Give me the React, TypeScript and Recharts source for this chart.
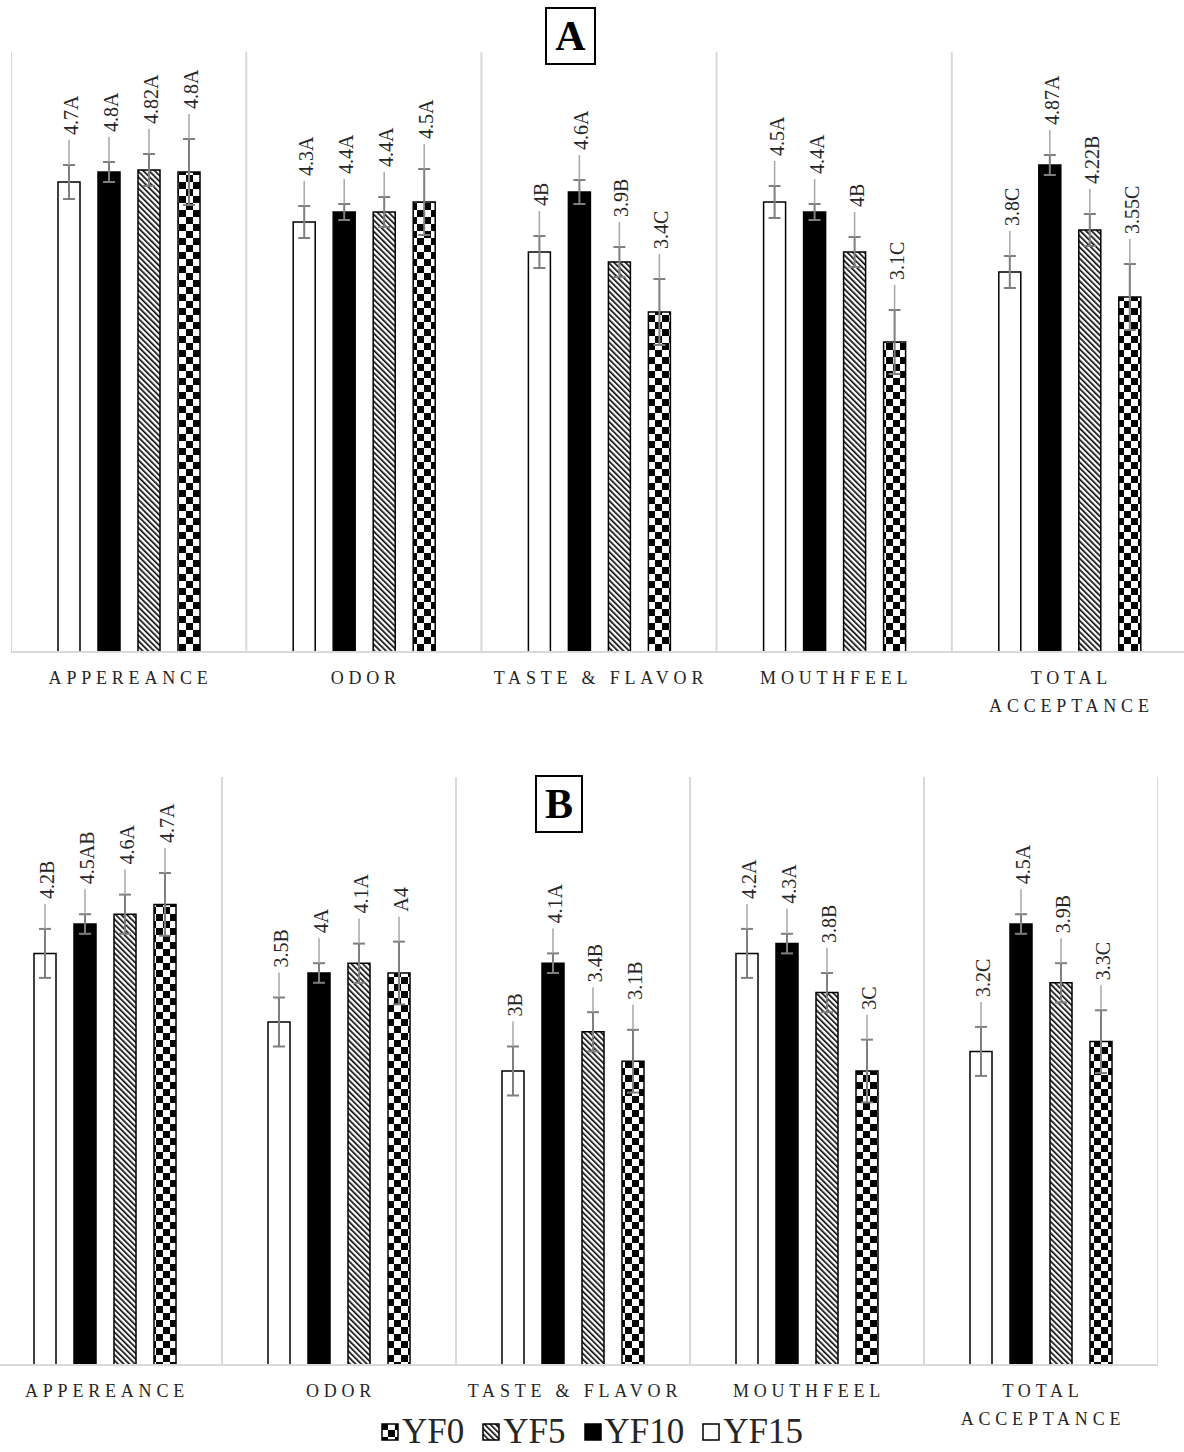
import React from 'react';
import { BarChart, Bar, XAxis, YAxis, CartesianGrid, ErrorBar, LabelList } from 'recharts';

// categories and series
const categories = ['APPEREANCE', 'ODOR', 'TASTE & FLAVOR', 'MOUTHFEEL', 'TOTAL ACCEPTANCE'];
const seriesNames = ['YF15', 'YF10', 'YF5', 'YF0'];

// panel A values
const aYF15 = [4.7, 4.3, 4.0, 4.5, 3.8];
const aYF10 = [4.8, 4.4, 4.6, 4.4, 4.87];
const aYF5 = [4.82, 4.4, 3.9, 4.0, 4.22];
const aYF0 = [4.8, 4.5, 3.4, 3.1, 3.55];

// panel A error (+/-)
const aErr15 = [0.17, 0.16, 0.16, 0.16, 0.16];
const aErr10 = [0.1, 0.08, 0.12, 0.08, 0.1];
const aErr5 = [0.16, 0.15, 0.15, 0.15, 0.16];
const aErr0 = [0.33, 0.33, 0.33, 0.32, 0.33];

// panel A data labels
const aLab15 = ['4.7A', '4.3A', '4B', '4.5A', '3.8C'];
const aLab10 = ['4.8A', '4.4A', '4.6A', '4.4A', '4.87A'];
const aLab5 = ['4.82A', '4.4A', '3.9B', '4B', '4.22B'];
const aLab0 = ['4.8A', '4.5A', '3.4C', '3.1C', '3.55C'];

// panel B values
const bYF15 = [4.2, 3.5, 3.0, 4.2, 3.2];
const bYF10 = [4.5, 4.0, 4.1, 4.3, 4.5];
const bYF5 = [4.6, 4.1, 3.4, 3.8, 3.9];
const bYF0 = [4.7, 4.0, 3.1, 3.0, 3.3];

// panel B error (+/-)
const bErr15 = [0.25, 0.25, 0.25, 0.25, 0.25];
const bErr10 = [0.1, 0.1, 0.1, 0.1, 0.1];
const bErr5 = [0.2, 0.2, 0.2, 0.2, 0.2];
const bErr0 = [0.32, 0.32, 0.32, 0.32, 0.32];

// panel B data labels
const bLab15 = ['4.2B', '3.5B', '3B', '4.2A', '3.2C'];
const bLab10 = ['4.5AB', '4A', '4.1A', '4.3A', '4.5A'];
const bLab5 = ['4.6A', '4.1A', '3.4B', '3.8B', '3.9B'];
const bLab0 = ['4.7A', 'A4', '3.1B', '3C', '3.3C'];

const SERIF = '"Liberation Serif", "Times New Roman", serif';
const TEXT = '#262626';
const GRID = '#d9d9d9';
const LABEL_GAP = 30;

const fills: Record<string, string> = {
  YF15: '#ffffff',
  YF10: '#000000',
  YF5: 'url(#hatch)',
  YF0: 'url(#checker)',
};

function buildRows(vals: number[][], errs: number[][], labels: string[][]) {
  return categories.map((name, i) => {
    const row: any = { name };
    seriesNames.forEach((s, k) => {
      row[s] = vals[k][i];
      row[s + '_e'] = errs[k][i];
      row[s + '_l'] = labels[k][i];
    });
    return row;
  });
}

const rowsA = buildRows(
  [aYF15, aYF10, aYF5, aYF0],
  [aErr15, aErr10, aErr5, aErr0],
  [aLab15, aLab10, aLab5, aLab0]
);
const rowsB = buildRows(
  [bYF15, bYF10, bYF5, bYF0],
  [bErr15, bErr10, bErr5, bErr0],
  [bLab15, bLab10, bLab5, bLab0]
);

// rotated data label sitting above the error bar, with a leader line
const makeLabel = (rows: any[], key: string) => (props: any) => {
  const vb = props.viewBox || props;
  const { x, y, width, height } = vb;
  const row = rows[props.index];
  if (!row || !height) return null;
  const pxPerUnit = height / row[key];
  const errTop = y - row[key + '_e'] * pxPerUnit;
  const cx = x + width / 2;
  const textBottom = errTop - LABEL_GAP;
  return (
    <g>
      <line x1={cx} y1={errTop} x2={cx} y2={textBottom + 5} stroke="#a6a6a6" strokeWidth={1.5} />
      <text
        transform={`translate(${cx + 9},${textBottom}) rotate(-90)`}
        fontSize={20}
        fontFamily={SERIF}
        fill={TEXT}
      >
        {props.value}
      </text>
    </g>
  );
};

const CategoryTick = (props: any) => {
  const { x, y, payload } = props;
  const label = String(payload.value);
  const lines = label.length > 15 ? label.split(' ') : [label];
  return (
    <text
      x={x}
      y={y + 32}
      textAnchor="middle"
      fontFamily={SERIF}
      fontSize={18}
      fill={TEXT}
      style={{ letterSpacing: '4.8px' }}
    >
      {lines.map((l, i) => (
        <tspan key={i} x={x + 2} dy={i === 0 ? 0 : 28}>
          {l}
        </tspan>
      ))}
    </text>
  );
};

const categoryBounds = ({ offset }: any) => {
  const n = categories.length;
  return Array.from({ length: n + 1 }, (_, i) => offset.left + (i * offset.width) / n);
};

const Panel = ({ rows, width, height, top }: { rows: any[]; width: number; height: number; top: number }) => (
  <BarChart
    width={width}
    height={height}
    data={rows}
    margin={{ top, right: 0, bottom: 0, left: 0 }}
    barSize={22}
    barGap={18}
  >
    <CartesianGrid
      horizontal={false}
      stroke={GRID}
      strokeWidth={2}
      verticalCoordinatesGenerator={categoryBounds}
    />
    <XAxis
      dataKey="name"
      axisLine={{ stroke: GRID, strokeWidth: 2 }}
      tickLine={false}
      tickSize={0}
      tickMargin={0}
      interval={0}
      height={68}
      tick={<CategoryTick />}
    />
    <YAxis hide width={0} domain={[0, 6]} ticks={[0, 1, 2, 3, 4, 5, 6]} />
    {seriesNames.map((s) => (
      <Bar key={s} dataKey={s} fill={fills[s]} stroke="#000" strokeWidth={1.5} isAnimationActive={false}>
        <ErrorBar
          dataKey={s + '_e'}
          width={6}
          stroke="#7f7f7f"
          strokeWidth={2}
          direction="y"
          isAnimationActive={false}
        />
        <LabelList dataKey={s + '_l'} content={makeLabel(rows, s)} />
      </Bar>
    ))}
  </BarChart>
);

const Swatch = ({ name }: { name: string }) => (
  <svg width={18} height={18} style={{ marginRight: 3 }}>
    <rect x={1} y={1} width={16} height={16} fill={fills[name]} stroke="#000" strokeWidth={1.5} />
  </svg>
);

const TitleBox = ({ letter, left, top, width, height }: any) => (
  <div
    style={{
      position: 'absolute',
      left,
      top,
      width,
      height,
      boxSizing: 'border-box',
      border: '2px solid #000',
      display: 'flex',
      alignItems: 'center',
      justifyContent: 'center',
      fontFamily: SERIF,
      fontWeight: 'bold',
      fontSize: 42,
      color: '#000',
      background: '#fff',
    }}
  >
    {letter}
  </div>
);

export default function App() {
  return (
    <div
      style={{
        position: 'absolute',
        left: 0,
        top: 0,
        width: 1184,
        height: 1452,
        overflow: 'hidden',
        background: '#fff',
        fontFamily: SERIF,
      }}
    >
      <svg width={0} height={0} style={{ position: 'absolute' }}>
        <defs>
          <pattern id="hatch" patternUnits="userSpaceOnUse" width={4} height={4} patternTransform="rotate(-45)">
            <rect width={4} height={4} fill="#fff" />
            <rect width={1.6} height={4} fill="#000" />
          </pattern>
          <pattern id="checker" patternUnits="userSpaceOnUse" width={14} height={14}>
            <rect width={14} height={14} fill="#fff" />
            <rect width={7} height={7} fill="#000" />
            <rect x={7} y={7} width={7} height={7} fill="#000" />
          </pattern>
        </defs>
      </svg>

      <div style={{ position: 'absolute', left: 10.5, top: 0 }}>
        <Panel rows={rowsA} width={1176} height={720} top={52} />
      </div>
      <TitleBox letter="A" left={545} top={7} width={51} height={58} />

      <div style={{ position: 'absolute', left: -12, top: 760 }}>
        <Panel rows={rowsB} width={1170} height={673} top={17} />
      </div>
      <TitleBox letter="B" left={535} top={775} width={48} height={58} />

      <div
        style={{
          position: 'absolute',
          top: 1413,
          left: 0,
          width: 1184,
          display: 'flex',
          justifyContent: 'center',
          alignItems: 'center',
          fontSize: 35,
          color: TEXT,
          lineHeight: '38px',
        }}
      >
        {[...seriesNames].reverse().map((s) => (
          <div key={s} style={{ display: 'flex', alignItems: 'center', margin: '0 9px' }}>
            <Swatch name={s} />
            <span>{s}</span>
          </div>
        ))}
      </div>
    </div>
  );
}
